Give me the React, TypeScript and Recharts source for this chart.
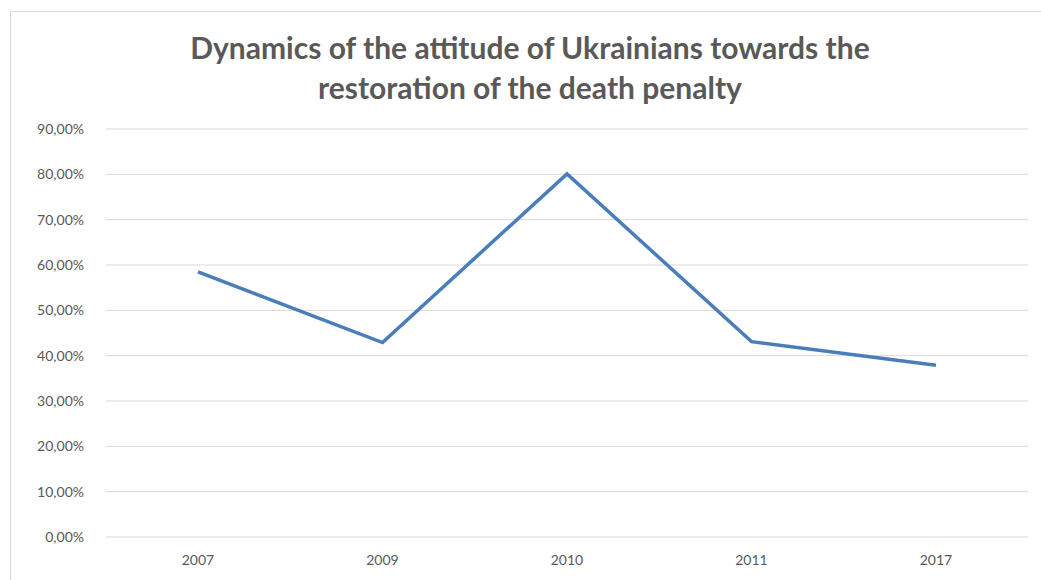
import React from 'react';
import { LineChart, Line, XAxis, YAxis, CartesianGrid } from 'recharts';

const years = ['2007', '2009', '2010', '2011', '2017'];
const support = [0.585, 0.429, 0.801, 0.431, 0.379];
const yTicks = [0, 0.1, 0.2, 0.3, 0.4, 0.5, 0.6, 0.7, 0.8, 0.9];
const titleLines = ['Dynamics of the attitude of Ukrainians towards the', 'restoration of the death penalty'];

const data = years.map((y, i) => ({ year: y, value: support[i] }));

const fmtPct = (v: number) => (v * 100).toFixed(2).replace('.', ',') + '%';

const tickFont = { fill: '#595959', fontSize: 14, fontFamily: 'Lato, "Open Sans", sans-serif' };

const App: React.FC = () => {
  return (
    <div style={{ position: 'absolute', left: 0, top: 0, width: 1041, height: 580, background: '#fff', overflow: 'hidden' }}>
      <div style={{ position: 'absolute', left: 10, top: 11, width: 1040, height: 600, border: '1px solid #d9d9d9', boxSizing: 'border-box' }} />
      <div
        style={{
          position: 'absolute', left: 0, top: 27, width: 1060, textAlign: 'center',
          fontFamily: 'Lato, "Open Sans", sans-serif', fontSize: 30, fontWeight: 700,
          color: '#595959', lineHeight: '40px',
        }}
      >
        {titleLines.map((t) => <div key={t}>{t}</div>)}
      </div>
      <div style={{ position: 'absolute', left: 0, top: 0 }}>
        <LineChart width={1041} height={580} data={data} margin={{ top: 129, right: 13, bottom: 13, left: 0 }}>
          <CartesianGrid vertical={false} stroke="#d9d9d9" />
          <XAxis
            dataKey="year"
            axisLine={false}
            tickLine={false}
            height={30}
            padding={{ left: 92, right: 92 }}
            tick={tickFont}
            tickMargin={12}
          />
          <YAxis
            domain={[0, 0.9]}
            ticks={yTicks}
            tickFormatter={fmtPct}
            axisLine={false}
            tickLine={false}
            width={106}
            tickMargin={16}
            tick={tickFont}
          />
          <Line
            type="linear"
            dataKey="value"
            stroke="#4a7ebb"
            strokeWidth={3.5}
            dot={false}
            isAnimationActive={false}
          />
        </LineChart>
      </div>
    </div>
  );
};

export default App;
